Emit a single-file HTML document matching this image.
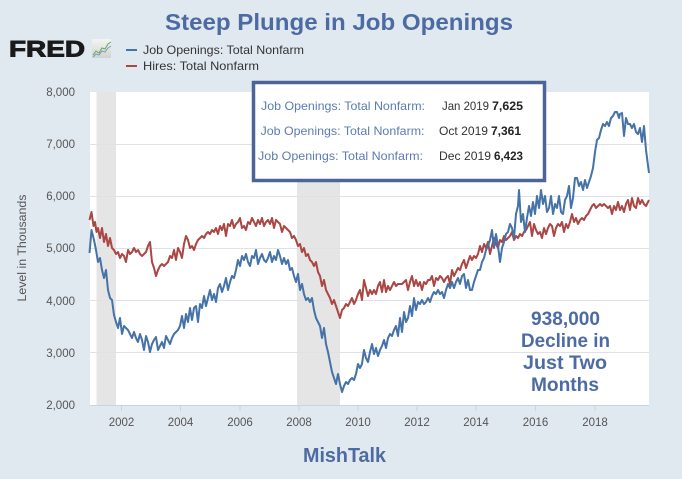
<!DOCTYPE html>
<html><head><meta charset="utf-8"><style>
html,body{margin:0;padding:0;background:#e1e9f0;}
svg{display:block;}
</style></head><body>
<svg width="682" height="479" viewBox="0 0 682 479" xmlns="http://www.w3.org/2000/svg">
<rect x="0" y="0" width="682" height="479" fill="#e1e9f0"/>
<!-- Title -->
<text x="165" y="30" font-family="Liberation Sans, Arial, sans-serif" font-weight="bold" font-size="23" fill="#4d6ba3" textLength="348" lengthAdjust="spacingAndGlyphs">Steep Plunge in Job Openings</text>
<!-- FRED logo -->
<text x="9" y="56.5" font-family="Liberation Sans, Arial, sans-serif" font-weight="bold" font-size="22.5" fill="#1a1a1a" stroke="#1a1a1a" stroke-width="0.9" textLength="76" lengthAdjust="spacingAndGlyphs">FRED</text>
<defs><linearGradient id="ig" x1="0" y1="0" x2="0" y2="1"><stop offset="0" stop-color="#f4f4f4"/><stop offset="1" stop-color="#d0d4d0"/></linearGradient></defs>
<rect x="92" y="39" width="19" height="19" fill="url(#ig)"/>
<polyline points="93,55 96,51 99,53 102,48 105,49 108,44 111,42" fill="none" stroke="#6aa84f" stroke-width="1"/>
<polyline points="93,57 96,54 99,55 102,51 105,52 108,48 111,46" fill="none" stroke="#7a9cc6" stroke-width="1"/>
<!-- Legend -->
<line x1="126" y1="50" x2="137" y2="50" stroke="#4572a7" stroke-width="2"/>
<text x="143" y="54" font-family="Liberation Sans, Arial, sans-serif" font-size="12" fill="#333" textLength="161" lengthAdjust="spacingAndGlyphs">Job Openings: Total Nonfarm</text>
<line x1="126" y1="66" x2="137" y2="66" stroke="#aa4643" stroke-width="2"/>
<text x="143" y="70" font-family="Liberation Sans, Arial, sans-serif" font-size="12" fill="#333" textLength="116" lengthAdjust="spacingAndGlyphs">Hires: Total Nonfarm</text>
<!-- Plot area -->
<rect x="90" y="92" width="559" height="313" fill="#ffffff"/>
<!-- recessions -->
<rect x="96.5" y="92" width="19.5" height="313" fill="#e5e5e5"/>
<rect x="297" y="92" width="43" height="313" fill="#e5e5e5"/>
<!-- gridlines -->
<g stroke="#dde1e8" stroke-width="1">
<line x1="90" y1="144.5" x2="649" y2="144.5"/>
<line x1="90" y1="196.5" x2="649" y2="196.5"/>
<line x1="90" y1="248.5" x2="649" y2="248.5"/>
<line x1="90" y1="300.5" x2="649" y2="300.5"/>
<line x1="90" y1="352.5" x2="649" y2="352.5"/>
</g>
<!-- x axis -->
<line x1="90" y1="405.5" x2="649" y2="405.5" stroke="#c8d4e2" stroke-width="1"/>
<g stroke="#c8d4e2" stroke-width="1">
<line x1="121.5" y1="405" x2="121.5" y2="411"/>
<line x1="180.5" y1="405" x2="180.5" y2="411"/>
<line x1="240" y1="405" x2="240" y2="411"/>
<line x1="299" y1="405" x2="299" y2="411"/>
<line x1="358" y1="405" x2="358" y2="411"/>
<line x1="417" y1="405" x2="417" y2="411"/>
<line x1="476" y1="405" x2="476" y2="411"/>
<line x1="535.5" y1="405" x2="535.5" y2="411"/>
<line x1="595" y1="405" x2="595" y2="411"/>
</g>
<g font-family="Liberation Sans, Arial, sans-serif" font-size="11.5" fill="#555" text-anchor="middle">
<text x="121.5" y="426">2002</text>
<text x="180.5" y="426">2004</text>
<text x="240" y="426">2006</text>
<text x="299" y="426">2008</text>
<text x="358" y="426">2010</text>
<text x="417" y="426">2012</text>
<text x="476" y="426">2014</text>
<text x="535.5" y="426">2016</text>
<text x="595" y="426">2018</text>
</g>
<g font-family="Liberation Sans, Arial, sans-serif" font-size="11.5" fill="#555" text-anchor="end">
<text x="75" y="96">8,000</text>
<text x="75" y="148">7,000</text>
<text x="75" y="200">6,000</text>
<text x="75" y="252">5,000</text>
<text x="75" y="305">4,000</text>
<text x="75" y="357">3,000</text>
<text x="75" y="409">2,000</text>
</g>
<text transform="translate(26,248) rotate(-90)" font-family="Liberation Sans, Arial, sans-serif" font-size="11.5" fill="#555" text-anchor="middle" textLength="107" lengthAdjust="spacingAndGlyphs">Level in Thousands</text>
<!-- Hires (red) -->
<polyline fill="none" stroke="#aa4643" stroke-width="2" stroke-linejoin="round" points="89.5,220 91.5,212 93.5,226 95,222 96.5,232 98,228 100,238 102,228 104,242 106,234 108,246 110,238 112,248 114,250 116,254 118,252 120,258 122,254 124,256 126,262 128,250 130,254 132,252 134,248 136,252 138,250 140,254 142,256 144,254 146,252 148,246 150,242 152,262 154,268 156,276 158,270 160,266 162,264 164,266 166,264 168,262 170,256 172,258 174,250 176,260 178,248 180,252 182,258 184,244 186,236 188,240 190,248 192,246 194,250 196,244 198,240 200,238 202,236 204,238 206,234 208,232 210,234 212,230 214,232 216,228 218,234 220,226 222,230 224,224 226,236 228,224 230,226 232,220 234,228 236,224 238,222 240,218 242,228 244,226 246,230 248,222 250,224 252,218 254,222 256,226 258,220 260,224 262,218 264,226 266,222 268,220 270,224 272,218 274,228 276,220 278,222 280,224 282,232 284,226 286,228 288,230 290,232 292,238 294,236 296,240 298,246 300,244 302,252 304,248 306,256 308,254 310,260 312,262 314,266 316,262 318,272 320,276 322,286 324,280 326,290 328,294 330,298 332,304 334,300 336,306 338,312 340,318 342,310 344,308 346,304 348,306 350,302 352,298 354,304 356,300 358,294 360,290 362,300 364,280 366,288 368,296 370,290 372,294 374,290 376,294 378,286 380,282 382,292 384,280 386,292 388,286 390,290 392,286 394,282 396,286 398,284 400,284 402,284 404,282 406,280 408,290 410,282 412,276 414,286 416,280 418,286 420,282 422,290 424,282 426,284 428,280 430,280 432,276 434,286 436,278 438,280 440,276 442,278 444,282 446,278 448,276 450,284 452,270 454,276 456,272 458,268 460,270 462,264 464,260 466,268 468,262 470,256 472,260 474,256 476,258 478,254 480,246 482,252 484,244 486,248 488,242 490,254 492,246 494,238 496,244 498,248 500,240 502,242 504,236 506,240 508,238 510,236 512,232 514,240 516,236 518,238 520,234 522,236 524,232 526,230 528,226 530,222 532,236 534,224 536,230 538,234 540,232 542,238 544,228 546,234 548,228 550,224 552,226 554,236 556,228 558,224 560,226 562,222 564,232 566,224 568,228 570,222 572,214 574,222 576,218 578,224 580,220 582,218 584,220 586,216 588,214 590,210 592,206 594,204 596,208 598,206 600,204 602,206 604,204 606,206 608,208 610,206 612,214 614,206 616,210 618,202 620,210 622,206 624,212 626,204 628,200 630,210 632,198 634,206 636,208 638,198 640,204 642,200 644,204 646,206 649,200"/>
<!-- Job openings (blue) -->
<polyline fill="none" stroke="#4572a7" stroke-width="2" stroke-linejoin="round" points="89.5,253 91.5,230 94,240 96,250 98,262 100,258 102,270 104,278 106,270 108,290 110,298 112,300 114,315 116,322 118,328 120,318 122,334 124,326 126,328 128,330 130,334 132,338 134,332 136,338 138,342 140,334 142,340 144,350 146,336 148,342 150,352 152,344 154,340 156,337 158,350 160,346 162,342 164,348 166,336 168,340 170,344 172,338 174,334 176,332 178,330 180,326 182,316 184,328 186,314 188,322 190,308 192,320 194,308 196,306 198,322 200,304 202,308 204,296 206,306 208,298 210,290 212,300 214,294 216,302 218,288 220,284 222,292 224,286 226,278 228,290 230,282 232,276 234,278 236,270 238,260 240,266 242,256 244,260 246,254 248,262 250,266 252,256 254,258 256,250 258,264 260,258 262,254 264,260 266,262 268,258 270,252 272,262 274,256 276,260 278,250 280,256 282,264 284,258 286,264 288,260 290,270 292,268 294,276 296,282 298,274 300,290 302,284 304,294 306,300 308,298 310,302 312,298 314,310 316,318 318,322 320,326 322,338 324,328 326,344 328,352 330,362 332,372 334,378 336,384 338,374 340,384 342,392 344,386 346,382 348,384 350,380 352,378 354,380 356,374 358,364 360,368 362,364 364,350 366,358 368,362 370,352 372,344 374,354 376,348 378,356 380,350 382,346 384,340 386,348 388,338 390,334 392,336 394,330 396,326 398,336 400,318 402,332 404,312 406,322 408,318 410,306 412,316 414,298 416,310 418,302 420,304 422,300 424,304 426,302 428,298 430,302 432,296 434,292 436,294 438,290 440,294 442,292 444,298 446,290 448,284 450,288 452,282 454,288 456,282 458,278 460,284 462,276 464,274 466,288 468,280 470,290 472,290 474,282 476,276 478,270 480,270 482,262 484,258 486,250 488,246 490,240 492,230 494,248 496,234 498,246 500,262 502,248 504,242 506,234 508,232 510,224 512,228 514,238 516,214 518,206 519,190 521,222 523,214 525,232 527,218 529,206 531,216 533,202 535,214 537,196 539,208 541,190 543,204 545,196 547,212 549,208 551,196 553,214 555,204 557,208 559,196 561,212 563,214 565,200 567,196 569,186 571,208 573,198 575,178 577,178 579,186 581,182 583,190 585,180 587,188 589,182 591,176 593,168 595,152 597,140 599,138 601,130 603,124 605,126 607,122 609,126 611,118 613,116 615,112 617,112 619,118 620,114 622,113 624,136 626,118 628,124 630,124 632,128 634,124 636,132 638,134 640,128 642,142 644,126 646,150 649,173"/>
<!-- Tooltip box -->
<rect x="253.5" y="82.5" width="291" height="98" fill="#ffffff" stroke="#4b6596" stroke-width="3.5"/>
<g font-family="Liberation Sans, Arial, sans-serif" font-size="12">
<text x="261" y="110" fill="#5b7cb0" textLength="164" lengthAdjust="spacingAndGlyphs">Job Openings: Total Nonfarm:</text>
<text x="442" y="110" fill="#333" textLength="47" lengthAdjust="spacingAndGlyphs">Jan 2019</text>
<text x="492" y="110" fill="#222" font-weight="bold" textLength="31" lengthAdjust="spacingAndGlyphs">7,625</text>
<text x="260.5" y="135" fill="#5b7cb0" textLength="164" lengthAdjust="spacingAndGlyphs">Job Openings: Total Nonfarm:</text>
<text x="439" y="135" fill="#333" textLength="49" lengthAdjust="spacingAndGlyphs">Oct 2019</text>
<text x="491" y="135" fill="#222" font-weight="bold" textLength="30" lengthAdjust="spacingAndGlyphs">7,361</text>
<text x="258" y="160" fill="#5b7cb0" textLength="165" lengthAdjust="spacingAndGlyphs">Job Openings: Total Nonfarm:</text>
<text x="439" y="160" fill="#333" textLength="52" lengthAdjust="spacingAndGlyphs">Dec 2019</text>
<text x="494" y="160" fill="#222" font-weight="bold" textLength="29" lengthAdjust="spacingAndGlyphs">6,423</text>
</g>
<!-- Annotation -->
<g font-family="Liberation Sans, Arial, sans-serif" font-weight="bold" font-size="19" fill="#4d6ba3" text-anchor="middle">
<text x="565.5" y="325" textLength="69" lengthAdjust="spacingAndGlyphs">938,000</text>
<text x="565.5" y="347" textLength="89" lengthAdjust="spacingAndGlyphs">Decline in</text>
<text x="565" y="369" textLength="84" lengthAdjust="spacingAndGlyphs">Just Two</text>
<text x="565" y="391" textLength="68" lengthAdjust="spacingAndGlyphs">Months</text>
</g>
<!-- MishTalk -->
<text x="303" y="462" font-family="Liberation Sans, Arial, sans-serif" font-weight="bold" font-size="20.5" fill="#4d6ba3" textLength="83" lengthAdjust="spacingAndGlyphs">MishTalk</text>
</svg>
</body></html>
